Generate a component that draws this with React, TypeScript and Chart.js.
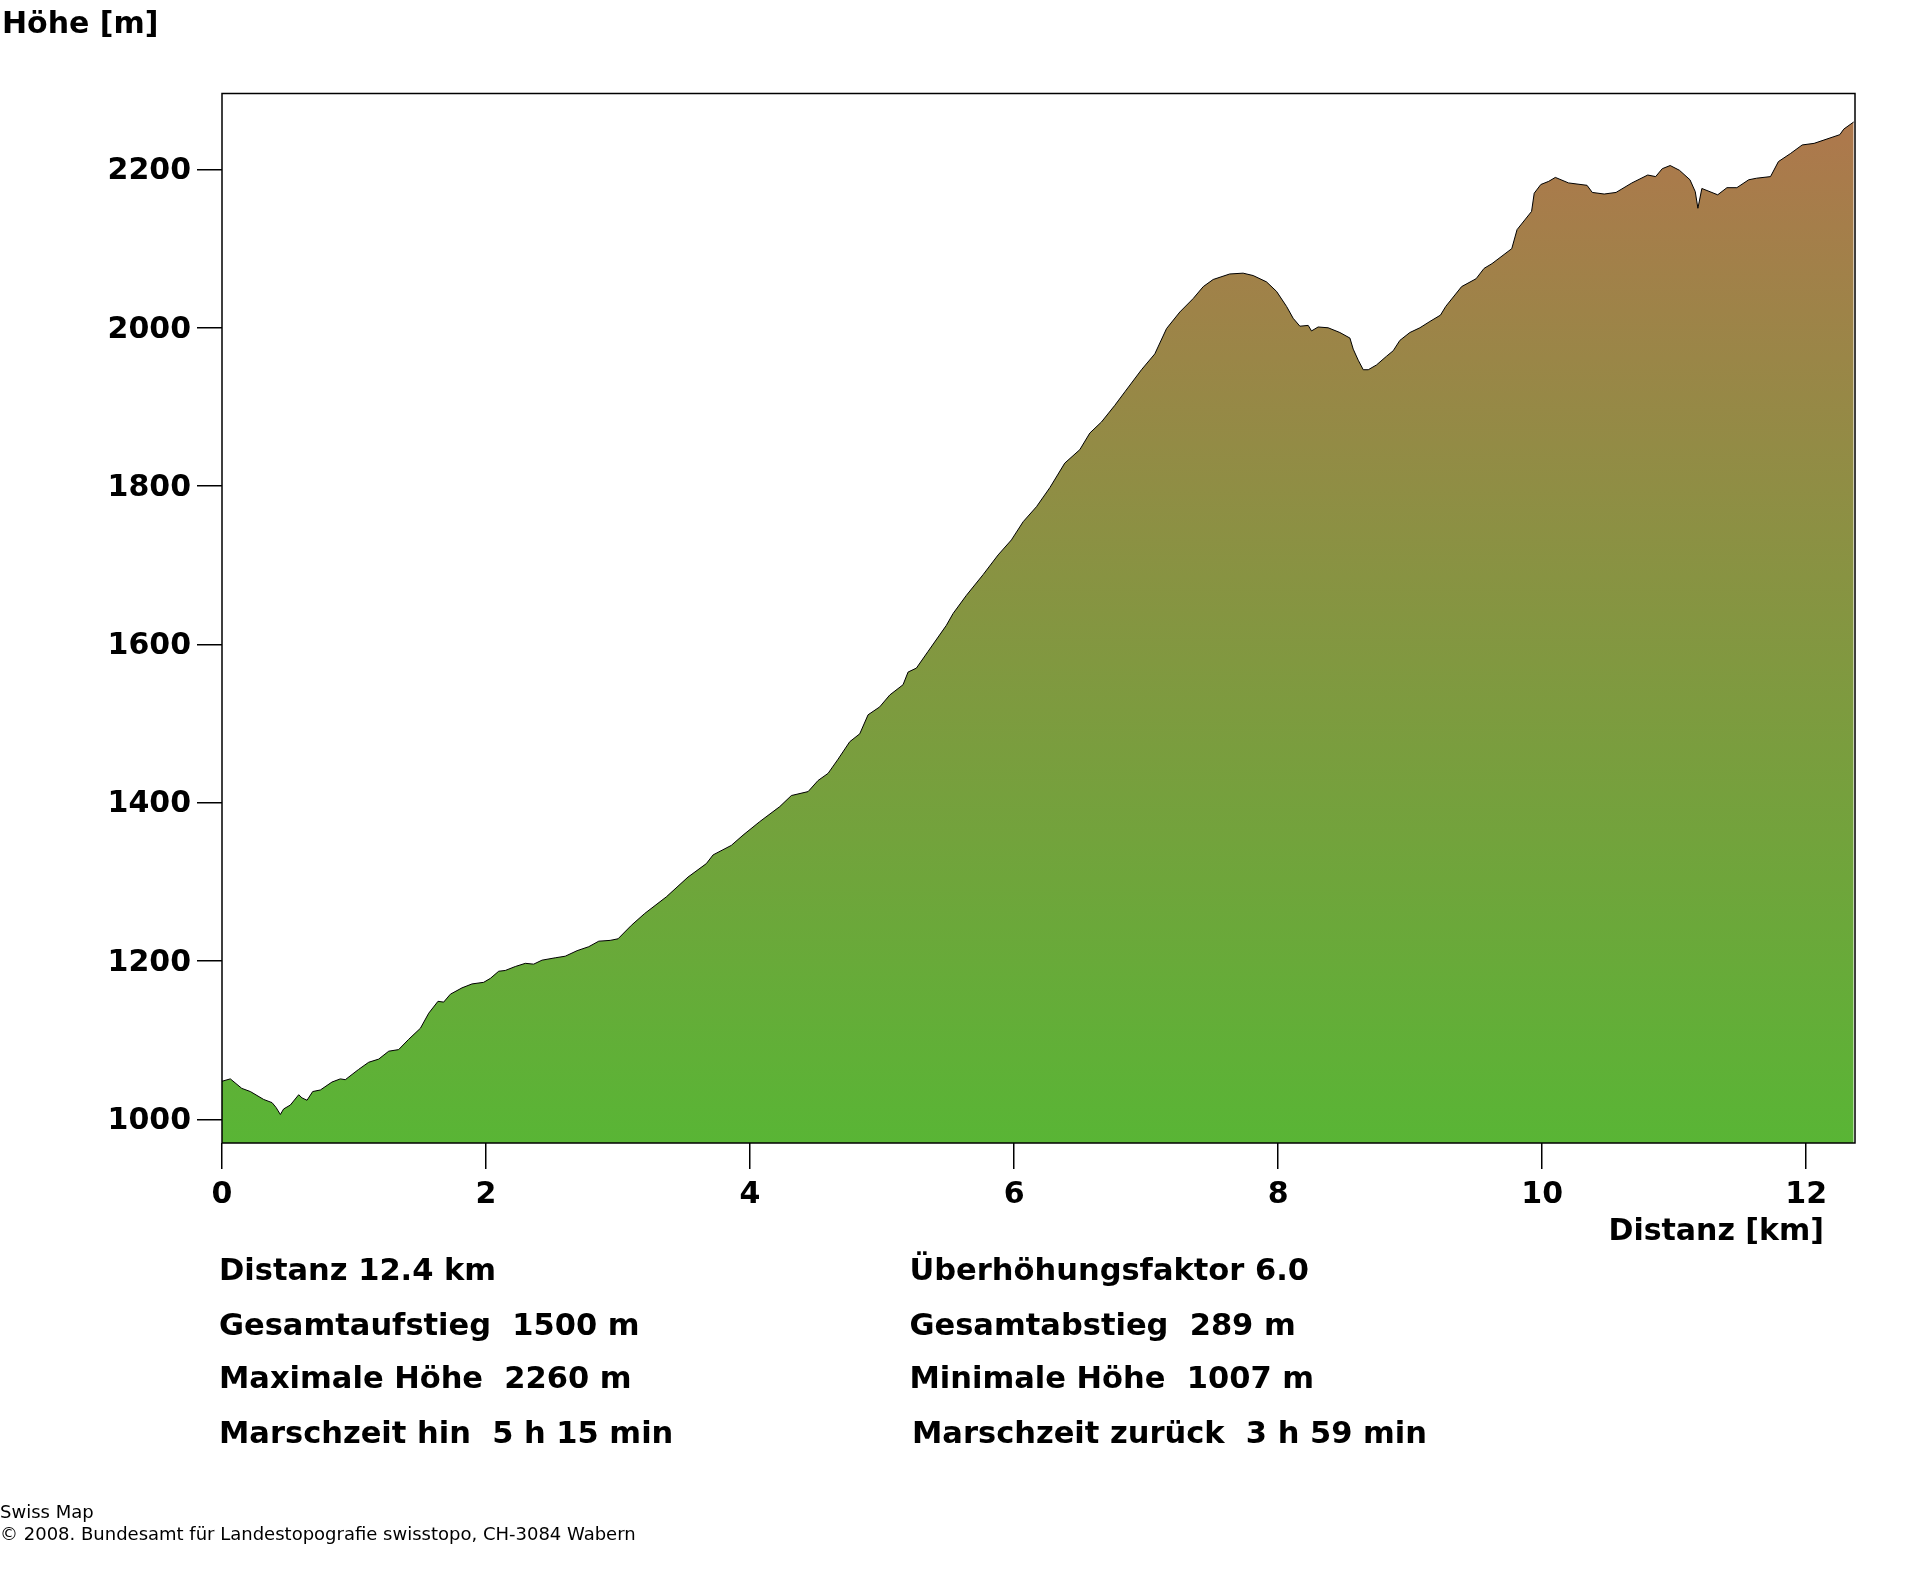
import React, { useEffect, useRef } from "react";
import { Chart, registerables } from "chart.js";

Chart.register(...registerables);

// Distance along the route [km]
const KM = [
  0, 0.063, 0.15, 0.215, 0.316, 0.379, 0.409, 0.442, 0.467, 0.518, 0.581, 0.606, 0.644, 0.687, 0.745,
  0.833, 0.896, 0.934, 1.035, 1.111, 1.187, 1.263, 1.338, 1.414, 1.503, 1.566, 1.636, 1.679, 1.73, 1.818,
  1.894, 1.982, 2.033, 2.096, 2.146, 2.222, 2.298, 2.361, 2.424, 2.525, 2.6, 2.69, 2.778, 2.854, 2.94,
  3.0, 3.101, 3.202, 3.366, 3.53, 3.669, 3.72, 3.858, 3.947, 4.073, 4.225, 4.313, 4.44, 4.515, 4.591,
  4.667, 4.755, 4.831, 4.894, 4.982, 5.058, 5.159, 5.197, 5.26, 5.348, 5.487, 5.538, 5.639, 5.765, 5.879,
  5.98, 6.069, 6.17, 6.271, 6.384, 6.498, 6.574, 6.662, 6.763, 6.839, 6.965, 7.066, 7.155, 7.256, 7.357,
  7.433, 7.508, 7.634, 7.735, 7.811, 7.912, 7.988, 8.064, 8.114, 8.165, 8.228, 8.253, 8.303, 8.379, 8.468,
  8.544, 8.569, 8.607, 8.645, 8.683, 8.745, 8.821, 8.872, 8.922, 8.998, 9.074, 9.15, 9.23, 9.27, 9.39,
  9.5, 9.56, 9.62, 9.77, 9.81, 9.92, 9.94, 9.99, 10.05, 10.1, 10.2, 10.34, 10.38, 10.47, 10.56,
  10.68, 10.8, 10.86, 10.91, 10.97, 11.04, 11.12, 11.16, 11.18, 11.21, 11.33, 11.4, 11.475, 11.565, 11.625,
  11.73, 11.79, 11.88, 11.97, 12.06, 12.255, 12.285, 12.36,
];

// Elevation [m]
const ELEV = [
  1048, 1051, 1039, 1035, 1025, 1021, 1015, 1006, 1013, 1018, 1031, 1027, 1024, 1035, 1037,
  1047, 1051, 1050, 1063, 1072, 1076, 1086, 1088, 1101, 1115, 1134, 1149, 1148, 1158, 1166,
  1171, 1173, 1178, 1187, 1188, 1193, 1197, 1196, 1201, 1204, 1206, 1213, 1218, 1225, 1226,
  1228, 1245, 1260, 1281, 1306, 1323, 1334, 1346, 1359, 1376, 1395, 1409, 1414, 1428, 1437,
  1455, 1477, 1487, 1511, 1521, 1536, 1549, 1565, 1570, 1591, 1624, 1639, 1662, 1688, 1713,
  1732, 1755, 1774, 1798, 1829, 1846, 1867, 1881, 1902, 1919, 1947, 1967, 1999, 2020, 2037,
  2052, 2061, 2068, 2069, 2066, 2058, 2046, 2027, 2012, 2002, 2003, 1996, 2001, 2000, 1994,
  1987, 1973, 1959, 1947, 1947, 1953, 1964, 1971, 1984, 1994, 2000, 2008, 2016, 2027, 2052,
  2062, 2075, 2081, 2100, 2124, 2147, 2170, 2181, 2185, 2190, 2183, 2180, 2171, 2169, 2171,
  2183, 2193, 2191, 2201, 2205, 2199, 2187, 2172, 2151, 2176, 2168, 2177, 2177, 2187, 2189,
  2191, 2210, 2220, 2231, 2233, 2244, 2251, 2260,
];

const X_TICKS = [0, 2, 4, 6, 8, 10, 12];
const Y_TICKS = [1000, 1200, 1400, 1600, 1800, 2000, 2200];
const X_MAX = 12.37;
const Y_MIN = 970;
const Y_MAX = 2296;

const Y_TITLE = "Höhe [m]";
const X_TITLE = "Distanz [km]";
const LEFT_STATS = [
  "Distanz 12.4 km",
  "Gesamtaufstieg  1500 m",
  "Maximale Höhe  2260 m",
  "Marschzeit hin  5 h 15 min",
];
const RIGHT_STATS = [
  "Überhöhungsfaktor 6.0",
  "Gesamtabstieg  289 m",
  "Minimale Höhe  1007 m",
  "Marschzeit zurück  3 h 59 min",
];
const FOOTER = ["Swiss Map", "© 2008. Bundesamt für Landestopografie swisstopo, CH-3084 Wabern"];

const W = 1920;
const H = 1572;
const BOLD = "bold 30.5px 'DejaVu Sans'";

export default function App() {
  const ref = useRef<HTMLCanvasElement | null>(null);

  useEffect(() => {
    if (!ref.current) return;
    const textPlugin = {
      id: "textPlugin",
      afterDatasetsDraw(chart: any) {
        const { ctx, chartArea } = chart;
        ctx.save();
        ctx.strokeStyle = "#000";
        ctx.lineWidth = 1.5;
        ctx.strokeRect(chartArea.left, chartArea.top, chartArea.right - chartArea.left, chartArea.bottom - chartArea.top);
        ctx.restore();
      },
      afterDraw(chart: any) {
        const { ctx } = chart;
        ctx.save();
        ctx.fillStyle = "#000";
        ctx.textBaseline = "alphabetic";
        ctx.font = "bold 30px 'DejaVu Sans'";
        ctx.textAlign = "left";
        ctx.fillText(Y_TITLE, 2, 32.5);
        ctx.textAlign = "right";
        ctx.fillText(X_TITLE, 1824, 1240);
        ctx.textAlign = "left";
        ctx.font = BOLD;
        const rows = [1280, 1335, 1388, 1443];
        LEFT_STATS.forEach((t, i) => ctx.fillText(t, 219, rows[i]));
        RIGHT_STATS.forEach((t, i) => ctx.fillText(t, i === 3 ? 912 : 909.5, rows[i]));
        ctx.font = "18px 'DejaVu Sans'";
        ctx.fillText(FOOTER[0], 0, 1518);
        ctx.fillText(FOOTER[1], 0, 1540);
        ctx.restore();
      },
    };

    const points = KM.map((x, i) => ({ x, y: ELEV[i] }));

    const chart = new Chart(ref.current, {
      type: "line",
      data: {
        datasets: [
          {
            data: points,
            borderColor: "#000",
            borderWidth: 1,
            pointRadius: 0,
            tension: 0,
            fill: "start",
            backgroundColor: (c: any) => {
              const area = c.chart.chartArea;
              if (!area) return "#5ab535";
              const g = c.chart.ctx.createLinearGradient(0, area.bottom, 0, area.top);
              g.addColorStop(0, "#59b535");
              g.addColorStop(1, "#b0764d");
              return g;
            },
          },
        ],
      },
      options: {
        animation: false,
        responsive: false,
        devicePixelRatio: 1,
        events: [],
        layout: { padding: { top: 93.5, right: 65, left: 0, bottom: 0 } },
        plugins: { legend: { display: false }, tooltip: { enabled: false } },
        scales: {
          x: {
            type: "linear",
            min: 0,
            max: X_MAX,
            afterFit: (s: any) => {
              s.height = H - 1143;
            },
            afterBuildTicks: (s: any) => {
              s.ticks = X_TICKS.map((v) => ({ value: v }));
            },
            border: { display: false },
            grid: { drawOnChartArea: false, drawTicks: true, tickLength: 26, color: "#000", lineWidth: 1.5 },
            ticks: {
              color: "#000",
              font: { family: "'DejaVu Sans'", size: 30, weight: "bold" },
              padding: 8,
              maxRotation: 0,
              autoSkip: false,
              callback: (v: any) => String(v),
            },
          },
          y: {
            type: "linear",
            min: Y_MIN,
            max: Y_MAX,
            afterFit: (s: any) => {
              s.width = 222;
            },
            afterBuildTicks: (s: any) => {
              s.ticks = Y_TICKS.map((v) => ({ value: v }));
            },
            border: { display: false },
            grid: { drawOnChartArea: false, drawTicks: true, tickLength: 25, color: "#000", lineWidth: 1.5 },
            ticks: {
              color: "#000",
              font: { family: "'DejaVu Sans'", size: 30, weight: "bold" },
              padding: 6,
              labelOffset: 2,
              autoSkip: false,
              callback: (v: any) => String(v),
            },
          },
        },
      },
      plugins: [textPlugin],
    } as any);
    return () => chart.destroy();
  }, []);

  return (
    <div style={{ position: "absolute", left: 0, top: 0, width: W, height: H, background: "#fff" }}>
      <canvas ref={ref} width={W} height={H} style={{ width: W, height: H, display: "block" }} />
    </div>
  );
}
